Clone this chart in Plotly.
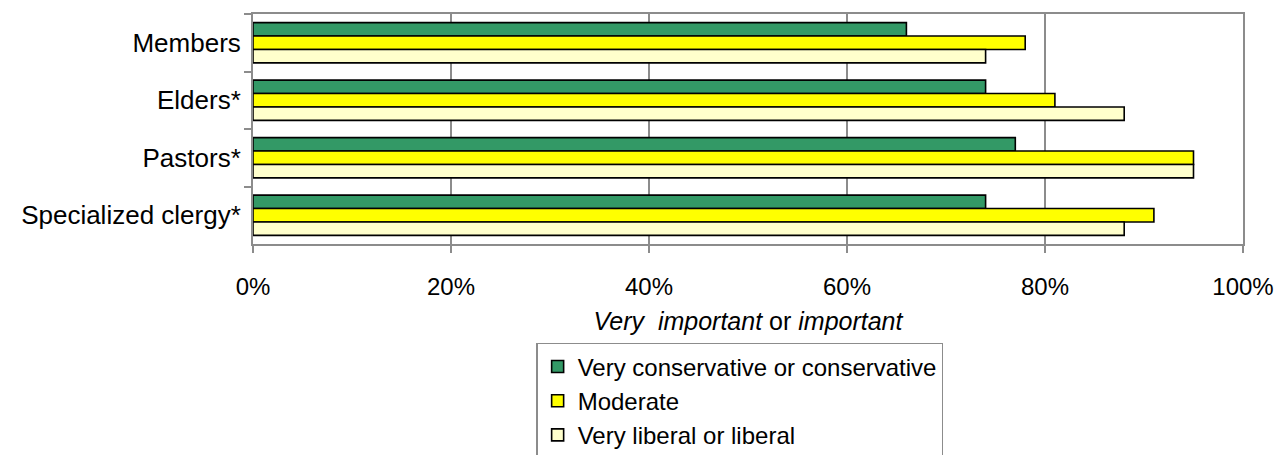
import plotly.graph_objects as go

categories = ["Members", "Elders*", "Pastors*", "Specialized clergy*"]
conservative = [66, 74, 77, 74]
moderate = [78, 81, 95, 91]
liberal = [74, 88, 95, 88]
series_names = ["Very conservative or conservative", "Moderate", "Very liberal or liberal"]
series_colors = ["#339966", "#FFFF00", "#FFFFCC"]
x_ticks = [0, 20, 40, 60, 80, 100]
x_tick_labels = ["0%", "20%", "40%", "60%", "80%", "100%"]

fig = go.Figure()
for i, (name, vals, col) in enumerate(zip(series_names, [conservative, moderate, liberal], series_colors)):
    fig.add_trace(go.Bar(
        y=categories, x=vals, name=name, orientation="h",
        legendgroup=f"g{i}",
        marker=dict(color=col, line=dict(color="black", width=1.6)),
    ))

FONT = "Liberation Sans, Arial, sans-serif"
AX = "#8c8c8c"
fig.update_layout(
    width=1286, height=455,
    margin=dict(l=245, r=51, t=4, b=207),
    paper_bgcolor="white", plot_bgcolor="white",
    barmode="group", bargap=0.3, bargroupgap=0,
    font=dict(family=FONT, size=24, color="black"),
    showlegend=True,
    legend=dict(
        x=0.286, y=-0.43, xanchor="left", yanchor="top",
        bordercolor=AX, borderwidth=1.5, bgcolor="white",
        font=dict(family=FONT, size=24, color="black"),
        traceorder="normal", itemwidth=30, tracegroupgap=2,
    ),
    xaxis=dict(
        range=[0, 100], tickvals=x_ticks, ticktext=x_tick_labels,
        showgrid=True, gridcolor=AX, gridwidth=1.5,
        showline=True, linecolor=AX, linewidth=2, mirror=True,
        ticks="outside", ticklen=7, tickcolor=AX, tickwidth=1.5,
        ticklabelstandoff=13,
        zeroline=False,
        tickfont=dict(family=FONT, size=24),
        title=dict(text="<i>Very\u00a0 important</i> or <i>important</i>",
                   font=dict(family=FONT, size=25), standoff=14),
    ),
    yaxis=dict(
        autorange="reversed",
        showline=True, linecolor=AX, linewidth=2, mirror=True,
        ticks="outside", ticklen=7, tickcolor=AX, tickwidth=1.5,
        tickson="boundaries", showgrid=False,
        ticklabelstandoff=5,
        tickfont=dict(family=FONT, size=26),
    ),
)

fig.write_html("out.html")
